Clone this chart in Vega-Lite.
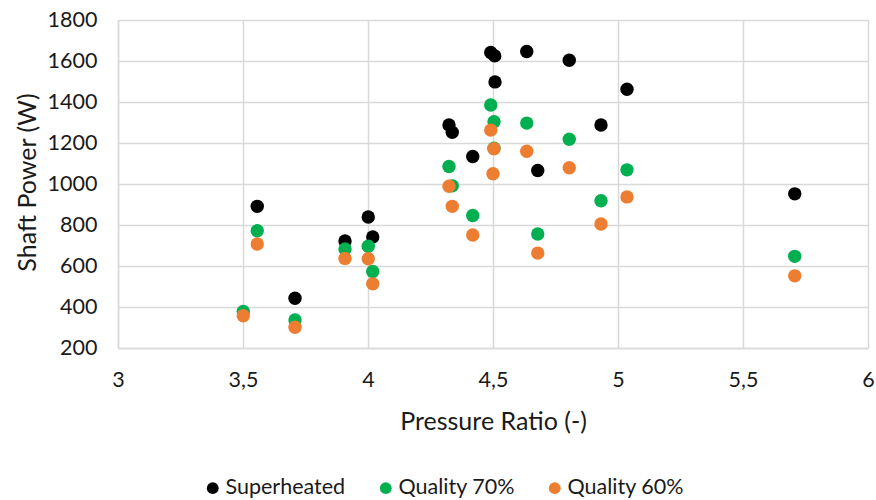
{
  "$schema": "https://vega.github.io/schema/vega-lite/v6.json",
  "width": 750,
  "height": 328,
  "autosize": {"type": "none"},
  "padding": {"left": 118, "top": 20, "right": 8, "bottom": 152},
  "background": "white",
  "data": {
    "values": [
      {"pr": 3.557, "w": 891, "s": "Superheated"},
      {"pr": 3.708, "w": 443, "s": "Superheated"},
      {"pr": 3.908, "w": 722, "s": "Superheated"},
      {"pr": 4.001, "w": 839, "s": "Superheated"},
      {"pr": 4.019, "w": 742, "s": "Superheated"},
      {"pr": 4.324, "w": 1288, "s": "Superheated"},
      {"pr": 4.337, "w": 1252, "s": "Superheated"},
      {"pr": 4.419, "w": 1134, "s": "Superheated"},
      {"pr": 4.491, "w": 1642, "s": "Superheated"},
      {"pr": 4.507, "w": 1625, "s": "Superheated"},
      {"pr": 4.508, "w": 1498, "s": "Superheated"},
      {"pr": 4.635, "w": 1646, "s": "Superheated"},
      {"pr": 4.679, "w": 1066, "s": "Superheated"},
      {"pr": 4.805, "w": 1604, "s": "Superheated"},
      {"pr": 4.932, "w": 1288, "s": "Superheated"},
      {"pr": 5.036, "w": 1462, "s": "Superheated"},
      {"pr": 5.707, "w": 952, "s": "Superheated"},
      {"pr": 3.501, "w": 378, "s": "Quality 70%"},
      {"pr": 3.557, "w": 772, "s": "Quality 70%"},
      {"pr": 3.708, "w": 337, "s": "Quality 70%"},
      {"pr": 3.908, "w": 683, "s": "Quality 70%"},
      {"pr": 4.001, "w": 696, "s": "Quality 70%"},
      {"pr": 4.019, "w": 573, "s": "Quality 70%"},
      {"pr": 4.324, "w": 1085, "s": "Quality 70%"},
      {"pr": 4.337, "w": 991, "s": "Quality 70%"},
      {"pr": 4.419, "w": 846, "s": "Quality 70%"},
      {"pr": 4.491, "w": 1385, "s": "Quality 70%"},
      {"pr": 4.504, "w": 1304, "s": "Quality 70%"},
      {"pr": 4.504, "w": 1174, "s": "Quality 70%"},
      {"pr": 4.635, "w": 1297, "s": "Quality 70%"},
      {"pr": 4.679, "w": 756, "s": "Quality 70%"},
      {"pr": 4.805, "w": 1218, "s": "Quality 70%"},
      {"pr": 4.932, "w": 918, "s": "Quality 70%"},
      {"pr": 5.036, "w": 1069, "s": "Quality 70%"},
      {"pr": 5.707, "w": 647, "s": "Quality 70%"},
      {"pr": 3.501, "w": 357, "s": "Quality 60%"},
      {"pr": 3.557, "w": 707, "s": "Quality 60%"},
      {"pr": 3.708, "w": 301, "s": "Quality 60%"},
      {"pr": 3.908, "w": 637, "s": "Quality 60%"},
      {"pr": 4.001, "w": 635, "s": "Quality 60%"},
      {"pr": 4.019, "w": 513, "s": "Quality 60%"},
      {"pr": 4.324, "w": 989, "s": "Quality 60%"},
      {"pr": 4.337, "w": 891, "s": "Quality 60%"},
      {"pr": 4.419, "w": 751, "s": "Quality 60%"},
      {"pr": 4.491, "w": 1263, "s": "Quality 60%"},
      {"pr": 4.504, "w": 1172, "s": "Quality 60%"},
      {"pr": 4.5, "w": 1050, "s": "Quality 60%"},
      {"pr": 4.635, "w": 1160, "s": "Quality 60%"},
      {"pr": 4.679, "w": 663, "s": "Quality 60%"},
      {"pr": 4.805, "w": 1079, "s": "Quality 60%"},
      {"pr": 4.932, "w": 805, "s": "Quality 60%"},
      {"pr": 5.036, "w": 937, "s": "Quality 60%"},
      {"pr": 5.707, "w": 552, "s": "Quality 60%"}
    ]
  },
  "mark": {"type": "point", "filled": true, "opacity": 1, "size": 180, "strokeWidth": 0},
  "encoding": {
    "x": {
      "field": "pr",
      "type": "quantitative",
      "scale": {"domain": [3, 6], "nice": false, "zero": false},
      "axis": {
        "values": [3, 3.5, 4, 4.5, 5, 5.5, 6],
        "format": ".1~f",
        "labelExpr": "replace(datum.label, '.', ',')",
        "labelBaseline": "middle",
        "labelPadding": 32,
        "labelFlush": false,
        "title": "Pressure Ratio (-)",
        "titleY": 73,
        "titleBaseline": "middle"
      }
    },
    "y": {
      "field": "w",
      "type": "quantitative",
      "scale": {"domain": [200, 1800], "nice": false, "zero": false},
      "axis": {
        "values": [200, 400, 600, 800, 1000, 1200, 1400, 1600, 1800],
        "format": "d",
        "labelPadding": 21,
        "labelFlush": false,
        "title": "Shaft Power (W)",
        "titleX": -91,
        "titleY": 162,
        "titleAngle": -90,
        "titleAlign": "center",
        "titleBaseline": "middle"
      }
    },
    "color": {
      "field": "s",
      "type": "nominal",
      "sort": null,
      "scale": {
        "domain": ["Superheated", "Quality 70%", "Quality 60%"],
        "range": ["#000000", "#00B050", "#ED7D31"]
      },
      "legend": {
        "orient": "none",
        "direction": "horizontal",
        "legendX": 84,
        "legendY": 457,
        "title": null,
        "symbolType": "circle",
        "symbolSize": 140,
        "symbolStrokeWidth": 0,
        "labelOffset": 2,
        "columnPadding": 29,
        "labelFont": "Lato",
        "labelFontSize": 21.5,
        "labelColor": "#1a1a1a"
      }
    }
  },
  "config": {
    "view": {"stroke": null},
    "axis": {
      "grid": true,
      "gridColor": "#D9D9D9",
      "gridWidth": 1.5,
      "domainColor": "#D9D9D9",
      "domainWidth": 1.5,
      "ticks": false,
      "tickSize": 0,
      "labelFont": "Lato",
      "labelFontSize": 21.5,
      "labelColor": "#1a1a1a",
      "titleFont": "Lato",
      "titleFontSize": 25,
      "titleFontWeight": "normal",
      "titleColor": "#1a1a1a"
    }
  }
}
